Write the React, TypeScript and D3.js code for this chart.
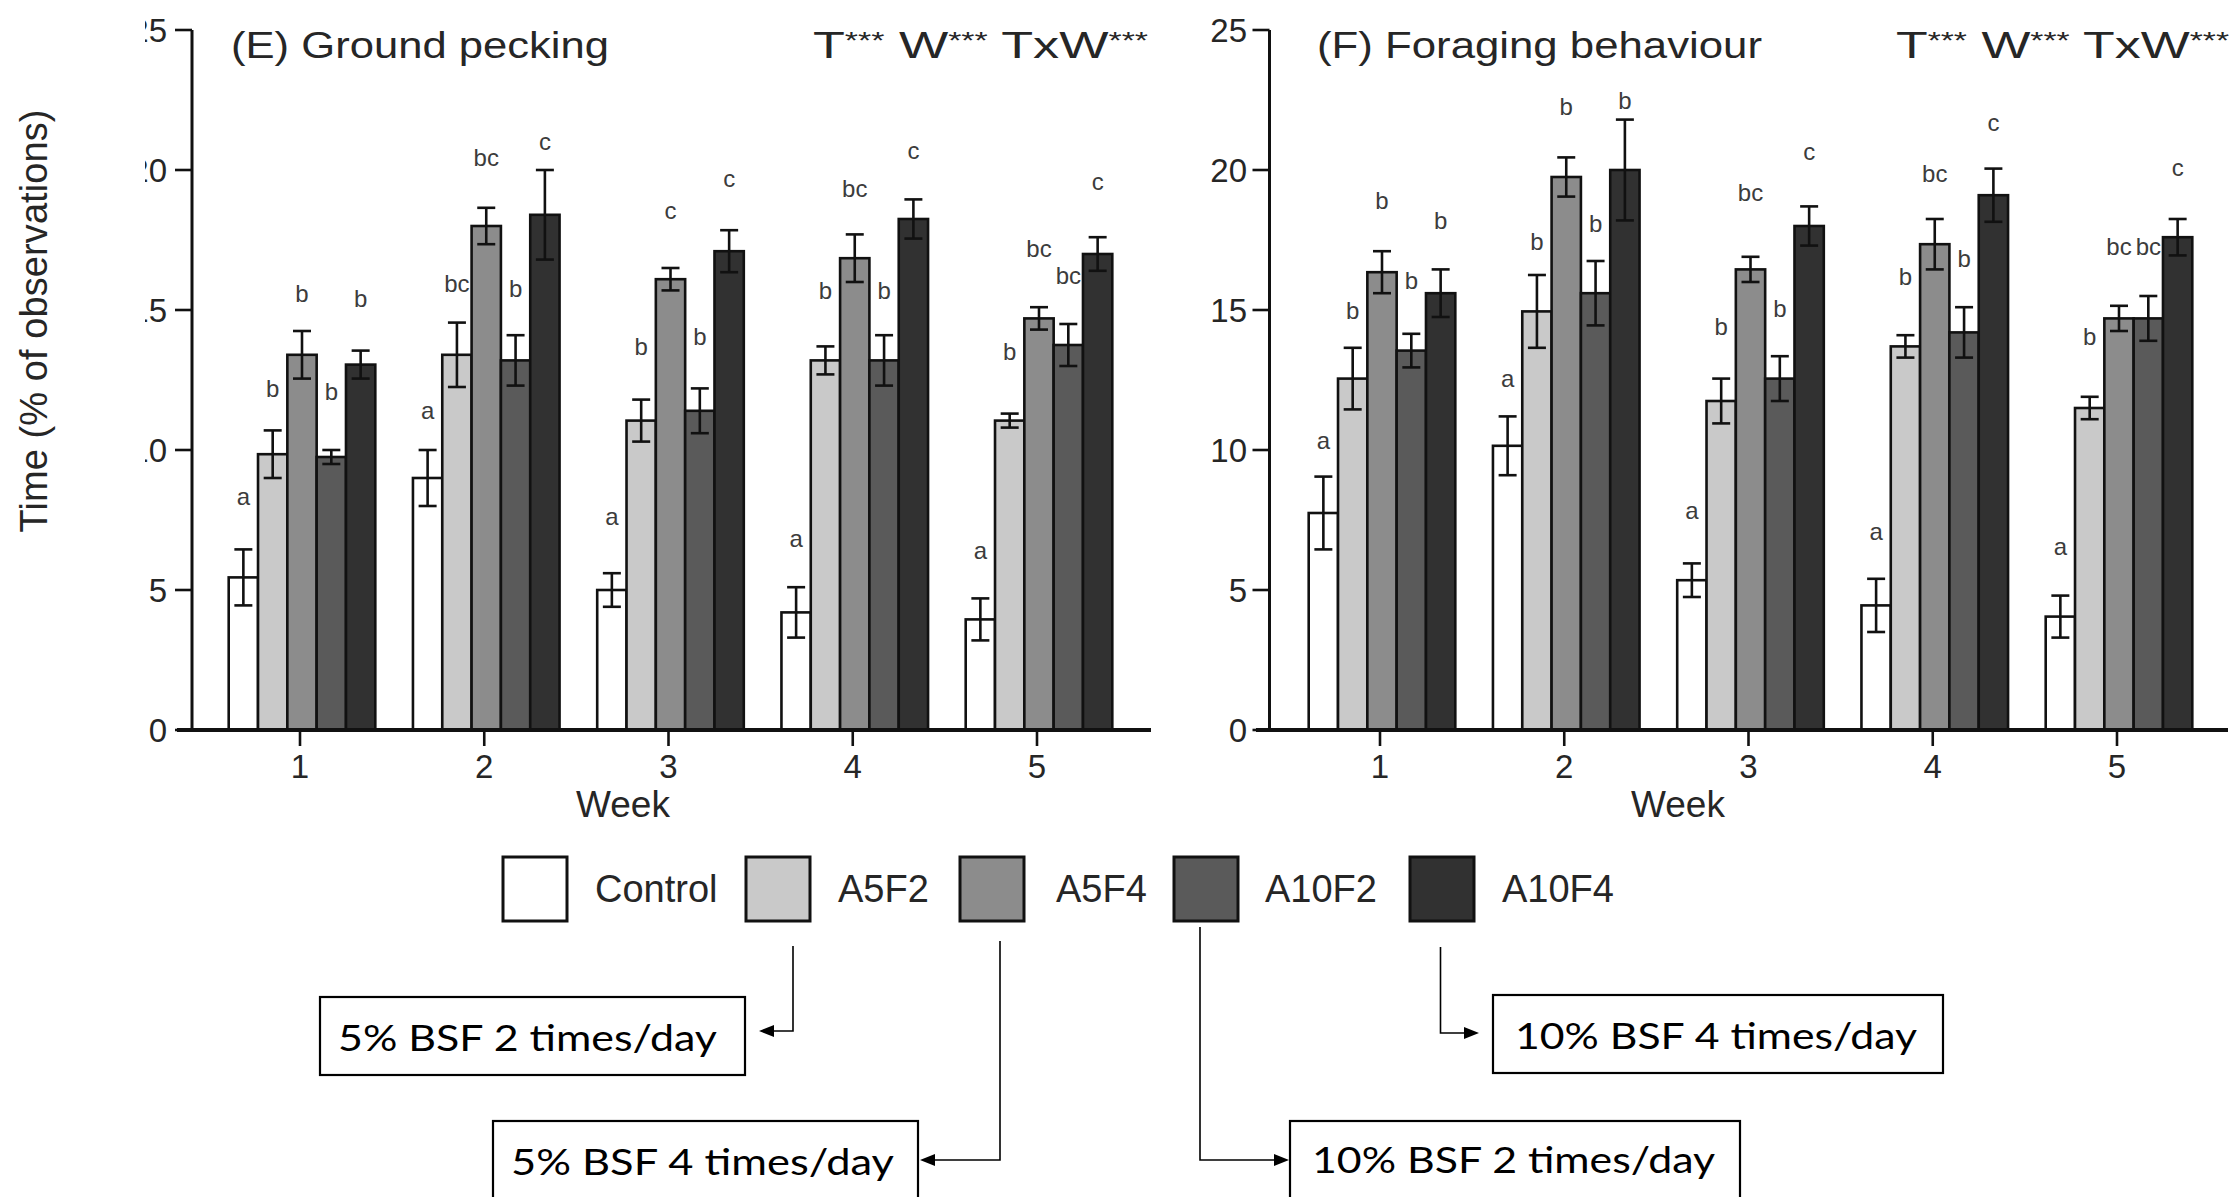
import React from 'react';
import * as d3 from 'd3';

// ---------------- DATA ----------------
const weeks = [1, 2, 3, 4, 5];
const series = ['Control', 'A5F2', 'A5F4', 'A10F2', 'A10F4'];
const yTickValues = [0, 5, 10, 15, 20, 25];

// (E) Ground pecking — means per series across weeks 1..5
const peckControl = [5.45, 9.0, 5.0, 4.2, 3.95];
const peckA5F2 = [9.85, 13.4, 11.05, 13.2, 11.05];
const peckA5F4 = [13.4, 18.0, 16.1, 16.85, 14.7];
const peckA10F2 = [9.75, 13.2, 11.4, 13.2, 13.75];
const peckA10F4 = [13.05, 18.4, 17.1, 18.25, 17.0];
// standard errors
const peckErrControl = [1.0, 1.0, 0.6, 0.9, 0.75];
const peckErrA5F2 = [0.85, 1.15, 0.75, 0.5, 0.25];
const peckErrA5F4 = [0.85, 0.65, 0.4, 0.85, 0.4];
const peckErrA10F2 = [0.25, 0.9, 0.8, 0.9, 0.75];
const peckErrA10F4 = [0.5, 1.6, 0.75, 0.7, 0.6];
// significance letters and the value level at which they sit
const peckLetControl = ['a', 'a', 'a', 'a', 'a'];
const peckLetA5F2 = ['b', 'bc', 'b', 'b', 'b'];
const peckLetA5F4 = ['b', 'bc', 'c', 'bc', 'bc'];
const peckLetA10F2 = ['b', 'b', 'b', 'b', 'bc'];
const peckLetA10F4 = ['b', 'c', 'c', 'c', 'c'];
const peckLvlControl = [8.33, 11.4, 7.61, 6.84, 6.42];
const peckLvlA5F2 = [12.2, 15.95, 13.68, 15.7, 13.5];
const peckLvlA5F4 = [15.6, 20.46, 18.56, 19.33, 17.19];
const peckLvlA10F2 = [12.1, 15.77, 14.04, 15.7, 16.24];
const peckLvlA10F4 = [15.4, 21.0, 19.69, 20.7, 19.57];

// (F) Foraging behaviour
const forControl = [7.75, 10.15, 5.35, 4.45, 4.05];
const forA5F2 = [12.55, 14.95, 11.75, 13.7, 11.5];
const forA5F4 = [16.35, 19.75, 16.45, 17.35, 14.7];
const forA10F2 = [13.55, 15.6, 12.55, 14.2, 14.7];
const forA10F4 = [15.6, 20.0, 18.0, 19.1, 17.6];
const forErrControl = [1.3, 1.05, 0.6, 0.95, 0.75];
const forErrA5F2 = [1.1, 1.3, 0.8, 0.4, 0.4];
const forErrA5F4 = [0.75, 0.7, 0.45, 0.9, 0.45];
const forErrA10F2 = [0.6, 1.15, 0.8, 0.9, 0.8];
const forErrA10F4 = [0.85, 1.8, 0.7, 0.95, 0.65];
const forLetControl = ['a', 'a', 'a', 'a', 'a'];
const forLetA5F2 = ['b', 'b', 'b', 'b', 'b'];
const forLetA5F4 = ['b', 'b', 'bc', 'bc', 'bc'];
const forLetA10F2 = ['b', 'b', 'b', 'b', 'bc'];
const forLetA10F4 = ['b', 'b', 'c', 'c', 'c'];
const forLvlControl = [10.35, 12.55, 7.85, 7.08, 6.54];
const forLvlA5F2 = [14.99, 17.43, 14.39, 16.18, 14.04];
const forLvlA5F4 = [18.9, 22.25, 19.21, 19.87, 17.25];
const forLvlA10F2 = [16.06, 18.08, 15.05, 16.83, 17.25];
const forLvlA10F4 = [18.2, 22.48, 20.64, 21.71, 20.1];

const annotationTexts = [
  '5% BSF 2 times/day',
  '5% BSF 4 times/day',
  '10% BSF 2 times/day',
  '10% BSF 4 times/day',
];

// ---------------- STYLE / LAYOUT ----------------
const W = 2233;
const H = 1197;
const FILLS = ['#ffffff', '#c9c9c9', '#8c8c8c', '#5a5a5a', '#313131'];
const SANS = '"Liberation Sans", Arial, Helvetica, sans-serif';
const CAL = 'Lato, "Open Sans", sans-serif';
const TXT = '#262626';

const y = d3.scaleLinear().domain([0, 25]).range([730, 30]);
const inner = d3.scaleBand<string>().domain(series).range([-73.3, 73.3]);

type PanelProps = {
  xr: [number, number];
  axisX: number;
  lineX: [number, number];
  labelX: number;
  clip?: string;
  means: number[][];
  errs: number[][];
  letters: string[][];
  levels: number[][];
  title: string;
  titleX: number;
  titleLen: number;
  statsX: number;
  statsLen: number;
  weekX: number;
};

function Panel(p: PanelProps) {
  const x = d3.scalePoint<number>().domain(weeks).range(p.xr);
  const bw = inner.bandwidth();
  const cap = 9;
  return (
    <g>
      {/* titles */}
      <text x={p.titleX} y={58} fontFamily={SANS} fontSize={37} fill={TXT}
        textLength={p.titleLen} lengthAdjust="spacingAndGlyphs">{p.title}</text>
      <text x={p.statsX} y={58} fontFamily={SANS} fontSize={37} fill={TXT}
        textLength={p.statsLen} lengthAdjust="spacingAndGlyphs">
        T<tspan fontSize={24} dy={-9}>***</tspan>
        <tspan dy={9}> W</tspan><tspan fontSize={24} dy={-9}>***</tspan>
        <tspan dy={9}> TxW</tspan><tspan fontSize={24} dy={-9}>***</tspan>
      </text>

      {/* letters */}
      {series.map((s, si) =>
        weeks.map((w, wi) => (
          <text key={`l${si}-${wi}`} x={(x(w) as number) + 2 + (inner(s) as number) + bw / 2}
            y={y(p.levels[si][wi])} dy="0.35em" textAnchor="middle"
            fontFamily={SANS} fontSize={24} fill="#3c3c3c">{p.letters[si][wi]}</text>
        ))
      )}

      {/* bars */}
      {series.map((s, si) =>
        weeks.map((w, wi) => {
          const bx = (x(w) as number) + 2 + (inner(s) as number);
          return (
            <rect key={`b${si}-${wi}`} x={bx} y={y(p.means[si][wi])} width={bw}
              height={y(0) - y(p.means[si][wi])} fill={FILLS[si]} stroke="#111" strokeWidth={2.6} />
          );
        })
      )}

      {/* error bars */}
      {series.map((s, si) =>
        weeks.map((w, wi) => {
          const cx = (x(w) as number) + 2 + (inner(s) as number) + bw / 2;
          const m = p.means[si][wi];
          const e = p.errs[si][wi];
          const y1 = y(m + e);
          const y2 = y(m - e);
          return (
            <g key={`e${si}-${wi}`} stroke="#111" strokeWidth={2.6}>
              <line x1={cx} x2={cx} y1={y1} y2={y2} />
              <line x1={cx - cap} x2={cx + cap} y1={y1} y2={y1} />
              <line x1={cx - cap} x2={cx + cap} y1={y2} y2={y2} />
            </g>
          );
        })
      )}

      {/* y axis */}
      <line x1={p.axisX} x2={p.axisX} y1={y(25)} y2={y(0)} stroke="#111" strokeWidth={3} />
      {yTickValues.map((t) => (
        <line key={`yt${t}`} x1={p.axisX - 17} x2={p.axisX} y1={y(t)} y2={y(t)} stroke="#111" strokeWidth={2.6} />
      ))}
      <g clipPath={p.clip ? `url(#${p.clip})` : undefined}>
        {yTickValues.map((t) => (
          <text key={`yl${t}`} x={p.labelX} y={y(t)} dy="0.36em" textAnchor="end"
            fontFamily={SANS} fontSize={33} fill={TXT}>{t}</text>
        ))}
      </g>

      {/* x axis */}
      <line x1={p.lineX[0]} x2={p.lineX[1]} y1={y(0)} y2={y(0)} stroke="#111" strokeWidth={4} />
      {weeks.map((w) => (
        <g key={`xt${w}`}>
          <line x1={x(w)} x2={x(w)} y1={y(0)} y2={y(0) + 16} stroke="#111" strokeWidth={2.6} />
          <text x={x(w)} y={778} textAnchor="middle" fontFamily={SANS} fontSize={33} fill={TXT}>{w}</text>
        </g>
      ))}
      <text x={p.weekX} y={817} textAnchor="middle" fontFamily={SANS} fontSize={37} fill={TXT}>Week</text>
    </g>
  );
}

function ArrowLeft({ vx, y0, y1, tip }: { vx: number; y0: number; y1: number; tip: number }) {
  return (
    <g>
      <polyline points={`${vx},${y0} ${vx},${y1} ${tip + 13},${y1}`} fill="none" stroke="#000" strokeWidth={1.6} />
      <polygon points={`${tip},${y1} ${tip + 15},${y1 - 6} ${tip + 15},${y1 + 6}`} fill="#000" />
    </g>
  );
}
function ArrowRight({ vx, y0, y1, tip }: { vx: number; y0: number; y1: number; tip: number }) {
  return (
    <g>
      <polyline points={`${vx},${y0} ${vx},${y1} ${tip - 13},${y1}`} fill="none" stroke="#000" strokeWidth={1.6} />
      <polygon points={`${tip},${y1} ${tip - 15},${y1 - 6} ${tip - 15},${y1 + 6}`} fill="#000" />
    </g>
  );
}

export default function App() {
  const peckMeans = [peckControl, peckA5F2, peckA5F4, peckA10F2, peckA10F4];
  const peckErrs = [peckErrControl, peckErrA5F2, peckErrA5F4, peckErrA10F2, peckErrA10F4];
  const peckLets = [peckLetControl, peckLetA5F2, peckLetA5F4, peckLetA10F2, peckLetA10F4];
  const peckLvls = [peckLvlControl, peckLvlA5F2, peckLvlA5F4, peckLvlA10F2, peckLvlA10F4];
  const forMeans = [forControl, forA5F2, forA5F4, forA10F2, forA10F4];
  const forErrs = [forErrControl, forErrA5F2, forErrA5F4, forErrA10F2, forErrA10F4];
  const forLets = [forLetControl, forLetA5F2, forLetA5F4, forLetA10F2, forLetA10F4];
  const forLvls = [forLvlControl, forLvlA5F2, forLvlA5F4, forLvlA10F2, forLvlA10F4];

  const legendBoxX = [503, 746, 960, 1174, 1410];
  const legendLabelX = [595, 838, 1056, 1265, 1502];

  // annotation boxes: [x, y, w, h, textX, baseline, textLen]
  const boxes = [
    [320, 997, 425, 78, 338, 1051, 379],
    [493, 1121, 425, 120, 511, 1175, 383],
    [1290, 1121, 450, 120, 1312, 1173, 403],
    [1493, 995, 450, 78, 1515, 1049, 402],
  ];

  return (
    <svg width={W} height={H} viewBox={`0 0 ${W} ${H}`}
      style={{ position: 'absolute', left: 0, top: 0, background: '#fff' }}>
      <defs>
        <clipPath id="leftTickClip">
          <rect x={145} y={0} width={W} height={H} />
        </clipPath>
      </defs>
      <rect x={0} y={0} width={W} height={H} fill="#fff" />

      {/* y axis title */}
      <text transform="translate(47,321) rotate(-90)" textAnchor="middle" fontFamily={SANS}
        fontSize={38} fill={TXT} textLength={423} lengthAdjust="spacing">Time (% of observations)</text>

      <Panel xr={[300, 1037]} axisX={192} lineX={[177, 1151]} labelX={167} clip="leftTickClip"
        means={peckMeans} errs={peckErrs} letters={peckLets} levels={peckLvls}
        title="(E) Ground pecking" titleX={231} titleLen={378} statsX={813} statsLen={335} weekX={623} />
      <Panel xr={[1380, 2117]} axisX={1269.5} lineX={[1256, 2228]} labelX={1247}
        means={forMeans} errs={forErrs} letters={forLets} levels={forLvls}
        title="(F) Foraging behaviour" titleX={1317} titleLen={445} statsX={1896} statsLen={333} weekX={1678} />

      {/* legend */}
      {series.map((s, i) => (
        <g key={`lg${s}`}>
          <rect x={legendBoxX[i]} y={857} width={64} height={64} fill={FILLS[i]} stroke="#111" strokeWidth={3} />
          <text x={legendLabelX[i]} y={902} fontFamily={SANS} fontSize={38} fill={TXT}>{s}</text>
        </g>
      ))}

      {/* connectors */}
      <ArrowLeft vx={793} y0={946} y1={1031} tip={759} />
      <ArrowLeft vx={1000} y0={941} y1={1160} tip={920} />
      <ArrowRight vx={1200} y0={927} y1={1160} tip={1289} />
      <ArrowRight vx={1440.5} y0={947} y1={1033} tip={1479} />

      {/* annotation boxes */}
      {boxes.map((b, i) => (
        <g key={`ab${i}`}>
          <rect x={b[0]} y={b[1]} width={b[2]} height={b[3]} fill="#fff" stroke="#000" strokeWidth={2.2} />
          <text x={b[4]} y={b[5]} fontFamily={CAL} fontSize={37} fill="#000"
            textLength={b[6]} lengthAdjust="spacingAndGlyphs">{annotationTexts[i]}</text>
        </g>
      ))}
    </svg>
  );
}
